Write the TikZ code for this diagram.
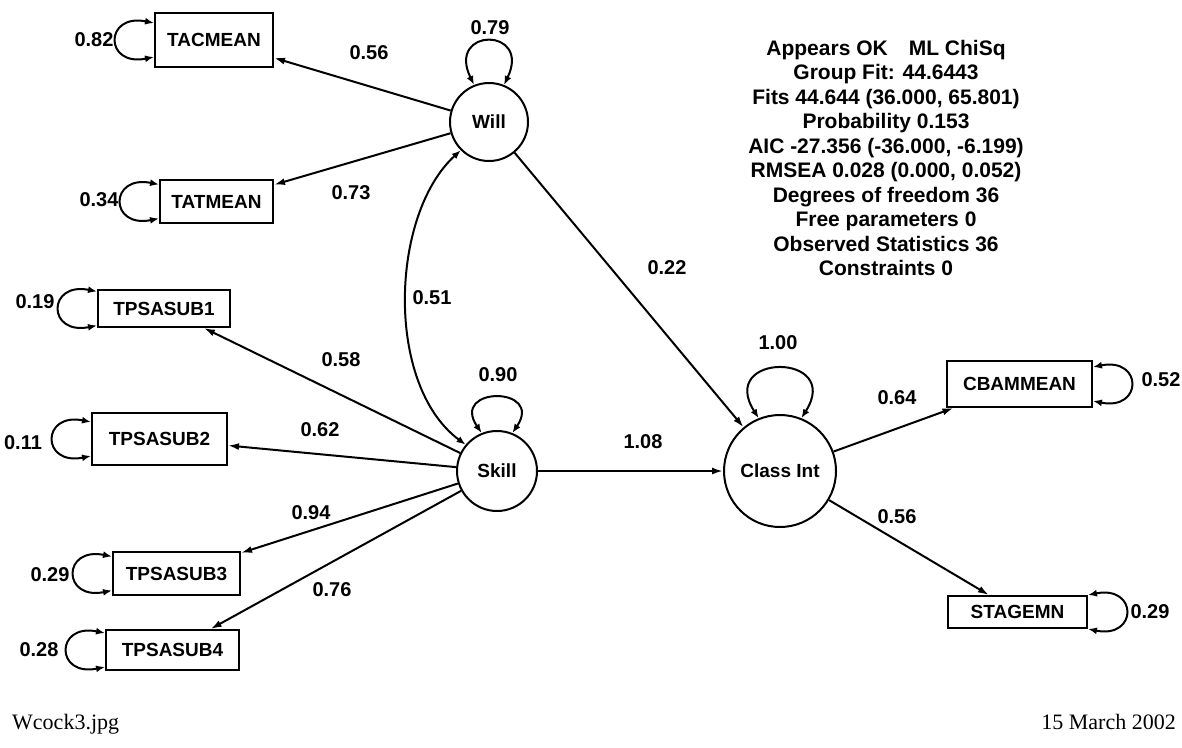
\documentclass[tikz,border=0pt]{standalone}
\usepackage{fontspec}
\setmainfont{Liberation Sans}
\newfontfamily\serifft{Liberation Serif}
\usetikzlibrary{arrows.meta}
\newcommand\leftloop[1]{\draw[cov] ([yshift=17pt]#1.west) .. controls +(-50,-10) and +(-50,10) .. ([yshift=-17pt]#1.west);}
\newcommand\rightloop[1]{\draw[cov] ([yshift=17pt]#1.east) .. controls +(50,-10) and +(50,10) .. ([yshift=-17pt]#1.east);}
\begin{document}
\begin{tikzpicture}[x=1pt,y=-1pt,
  obs/.style={draw, line width=2pt, inner sep=0pt, font=\fontsize{19}{22}\selectfont\bfseries},
  lat/.style={circle, draw, line width=2pt, inner sep=0pt, font=\fontsize{19}{22}\selectfont\bfseries},
  coef/.style={font=\fontsize{20}{22}\selectfont\bfseries, inner sep=0pt},
  path/.style={line width=2pt, -{Latex[length=11pt,width=7pt]}},
  cov/.style={line width=2pt, {Latex[length=9pt,width=7pt]}-{Latex[length=9pt,width=7pt]}},
  foot/.style={font=\serifft\fontsize{22}{26}\selectfont, inner sep=0pt}]
\useasboundingbox (0,0) rectangle (1182,747);
% latent variables
\node[lat, minimum size=78pt] (will) at (489,122) {Will};
\node[lat, minimum size=80pt] (skill) at (497,471) {Skill};
\node[lat, minimum size=112pt] (classint) at (780,471) {Class Int};
% observed variables
\node[obs, minimum width=118pt, minimum height=54pt] (tacmean) at (214,40) {TACMEAN};
\node[obs, minimum width=113pt, minimum height=43pt] (tatmean) at (216.5,201.5) {TATMEAN};
\node[obs, minimum width=132pt, minimum height=37pt] (tpsasub1) at (164,308.5) {TPSASUB1};
\node[obs, minimum width=135pt, minimum height=52pt] (tpsasub2) at (159.5,439) {TPSASUB2};
\node[obs, minimum width=127pt, minimum height=43pt] (tpsasub3) at (176.5,573.5) {TPSASUB3};
\node[obs, minimum width=133pt, minimum height=40pt] (tpsasub4) at (172.5,650) {TPSASUB4};
\node[obs, minimum width=145pt, minimum height=46pt] (cbammean) at (1019.5,384) {CBAMMEAN};
\node[obs, minimum width=139pt, minimum height=32pt] (stagemn) at (1017.5,612) {STAGEMN};
% paths
\draw[path] (will) -- (tacmean);
\draw[path] (will) -- (tatmean);
\draw[path] (will) -- (classint);
\draw[path] (skill) -- (tpsasub1);
\draw[path] (skill) -- (tpsasub2);
\draw[path] (skill) -- (tpsasub3);
\draw[path] (skill) -- (tpsasub4);
\draw[path] (skill) -- (classint);
\draw[path] (classint) -- (cbammean);
\draw[path] (classint) -- (stagemn);
\draw[cov] (will.225) .. controls (390,215) and (385,385) .. (skill.140);
% variance loops
\draw[cov] (will.112) .. controls +(-28,-58) and +(28,-58) .. (will.68);
\draw[cov] (skill.112) .. controls +(-32,-47) and +(32,-47) .. (skill.68);
\draw[cov] (classint.112) .. controls +(-42,-66) and +(42,-66) .. (classint.68);
\leftloop{tacmean}
\leftloop{tatmean}
\leftloop{tpsasub1}
\leftloop{tpsasub2}
\leftloop{tpsasub3}
\leftloop{tpsasub4}
\rightloop{cbammean}
\rightloop{stagemn}
% coefficient labels
\node[coef] (l79) at (490,28) {0.79};
\node[coef] (l90) at (498,375) {0.90};
\node[coef] (l100) at (778,343) {1.00};
\node[coef] (l82) at (94,40) {0.82};
\node[coef] (l34) at (99,200) {0.34};
\node[coef] (l19) at (35,302) {0.19};
\node[coef] (l11) at (23,443) {0.11};
\node[coef] (l29a) at (50,575) {0.29};
\node[coef] (l28) at (39,650) {0.28};
\node[coef] (l52) at (1161,380) {0.52};
\node[coef] (l29b) at (1150,612) {0.29};
\node[coef] (l56a) at (369,53) {0.56};
\node[coef] (l73) at (351,193) {0.73};
\node[coef] (l51) at (432,298) {0.51};
\node[coef] (l58) at (341,360) {0.58};
\node[coef] (l62) at (320,430) {0.62};
\node[coef] (l94) at (311,513) {0.94};
\node[coef] (l76) at (332,590) {0.76};
\node[coef] (l22) at (667,268) {0.22};
\node[coef] (l108) at (643,442) {1.08};
\node[coef] (l64) at (897,398) {0.64};
\node[coef] (l56b) at (897,517) {0.56};
% fit statistics
\node[font=\fontsize{21}{24.5}\selectfont\bfseries, align=center, inner sep=0pt] (stats) at (886,158) {Appears OK\quad ML ChiSq\\Group Fit: 44.6443\\Fits 44.644 (36.000, 65.801)\\Probability 0.153\\AIC -27.356 (-36.000, -6.199)\\RMSEA 0.028 (0.000, 0.052)\\Degrees of freedom 36\\Free parameters 0\\Observed Statistics 36\\Constraints 0};
% footer
\node[foot, anchor=base west] (file) at (12,729) {Wcock3.jpg};
\node[foot, anchor=base east] (date) at (1176,729) {15 March 2002};
\end{tikzpicture}
\end{document}
